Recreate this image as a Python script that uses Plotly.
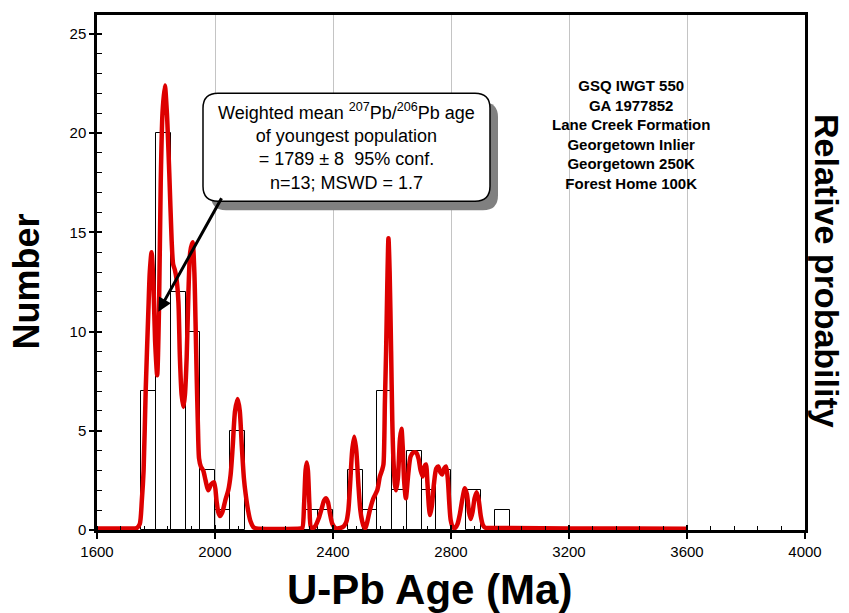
import plotly.graph_objects as go

# ---------------- data ----------------
bin_start = [1750, 1800, 1850, 1900, 1950, 2000, 2050, 2100, 2150, 2200, 2250, 2300, 2350,
             2400, 2450, 2500, 2550, 2600, 2650, 2700, 2750, 2800, 2850, 2900, 2950]
counts = [7, 20, 12, 10, 3, 1, 5, 0, 0, 0, 0, 1, 1,
          0, 3, 1, 7, 2, 4, 2, 3, 0, 2, 0, 1]
bin_width = 50

prob_age = [1600, 1700, 1735, 1745, 1752, 1758, 1765, 1774, 1779, 1785, 1791, 1797, 1804,
            1810, 1816, 1822, 1830, 1837, 1845, 1853, 1858, 1864, 1870, 1876, 1881, 1887,
            1893, 1898, 1904, 1910, 1916, 1924, 1930, 1934, 1938, 1942, 1946, 1952, 1960,
            1968, 1977, 1987, 1997, 2005, 2011, 2017, 2025, 2035, 2045, 2053, 2060, 2068,
            2077, 2084, 2091, 2098, 2104, 2112, 2120, 2130, 2140, 2290, 2296, 2302, 2307,
            2311, 2315, 2320, 2325, 2332, 2340, 2352, 2362, 2370, 2376, 2383, 2390, 2398,
            2408, 2425, 2437, 2445, 2452, 2458, 2465, 2472, 2479, 2486, 2492, 2498, 2505,
            2510, 2516, 2525, 2537, 2550, 2559, 2566, 2571, 2576, 2580, 2584, 2588, 2592,
            2597, 2601, 2605, 2610, 2614, 2620, 2627, 2632, 2637, 2641, 2647, 2655, 2663,
            2672, 2682, 2690, 2697, 2704, 2710, 2715, 2720, 2725, 2729, 2735, 2742, 2750,
            2757, 2764, 2770, 2777, 2783, 2789, 2794, 2799, 2806, 2814, 2822, 2830, 2839,
            2847, 2854, 2861, 2867, 2873, 2880, 2887, 2894, 2901, 2908, 2915, 2930, 3000,
            3200, 3400, 3600]
prob_val = [0.08, 0.08, 0.1, 0.3, 1.5, 3.0, 7.0, 11.0, 13.0, 14.0, 12.5, 9.5, 7.8,
            11.0, 17.5, 21.0, 22.4, 21.0, 18.0, 14.6, 13.4, 13.1, 12.6, 11.5, 8.7, 6.8,
            6.2, 6.8, 8.7, 12.0, 14.0, 14.5, 13.0, 10.5, 7.7, 5.3, 3.6, 3.2, 3.0,
            2.5, 2.0, 2.3, 2.4, 1.5, 0.9, 0.7, 0.9, 1.5, 2.0, 2.8, 4.2, 6.0,
            6.6, 6.0, 4.2, 2.6, 1.8, 1.0, 0.45, 0.15, 0.08, 0.08, 0.1, 1.3, 3.0,
            3.4, 3.0, 1.3, 0.15, 0.1, 0.2, 0.6, 1.1, 1.5, 1.6, 1.4, 0.8, 0.3,
            0.1, 0.1, 0.2, 0.4, 1.0, 2.3, 4.0, 4.7, 4.0, 2.3, 1.1, 0.5, 0.15,
            0.1, 0.4, 1.0, 1.6, 2.0, 2.7, 3.0, 3.3, 6.5, 9.0, 12.3, 14.7, 13.0,
            9.0, 5.5, 3.5, 2.3, 2.0, 2.6, 4.6, 5.1, 4.0, 2.5, 1.6, 2.8, 3.7,
            3.9, 3.9, 3.6, 3.0, 2.7, 3.2, 3.3, 2.4, 1.2, 0.75, 1.2, 2.3, 3.1,
            3.2, 2.9, 2.8, 3.1, 3.2, 2.6, 1.4, 0.5, 0.15, 0.1, 0.3, 0.8, 1.6,
            2.1, 1.8, 0.9, 0.55, 0.9, 1.6, 1.9, 1.5, 0.7, 0.25, 0.12, 0.1, 0.1,
            0.08, 0.07, 0.06]

x_ticks = [1600, 2000, 2400, 2800, 3200, 3600, 4000]
y_ticks = [0, 5, 10, 15, 20, 25]

box_text = ("Weighted mean <sup>207</sup>Pb/<sup>206</sup>Pb age<br>of youngest population"
            "<br>= 1789 ± 8  95% conf.<br>n=13; MSWD = 1.7")
sample_text = ("<b>GSQ IWGT 550<br>GA 1977852<br>Lane Creek Formation<br>Georgetown Inlier"
               "<br>Georgetown 250K<br>Forest Home 100K</b>")
arrow_target = (1808, 11.0)

FONT = "Liberation Sans, Arial, sans-serif"

# ---------------- figure ----------------
fig = go.Figure()

fig.add_trace(go.Scatter(
    x=prob_age, y=prob_val, mode="lines",
    line=dict(color="#dd0000", width=4.5, shape="spline", smoothing=0.7),
    showlegend=False, hoverinfo="skip"))

bx = [s + bin_width / 2 for s, c in zip(bin_start, counts) if c > 0]
by = [c for c in counts if c > 0]
fig.add_trace(go.Bar(
    x=bx, y=by, width=bin_width,
    marker=dict(color="rgba(0,0,0,0)", line=dict(color="black", width=1)),
    showlegend=False, hoverinfo="skip"))

# empty trace to bring up overlay axes (for crossing major ticks)
fig.add_trace(go.Scatter(x=[], y=[], xaxis="x2", yaxis="y2", showlegend=False))

fig.update_layout(
    width=849, height=613,
    margin=dict(l=97, r=44, t=12, b=83),
    paper_bgcolor="white", plot_bgcolor="white",
    font=dict(family=FONT, color="black", size=15),
    bargap=0,
    xaxis=dict(range=[1600, 4000], tickvals=x_ticks, ticks="outside", ticklen=6,
               tickwidth=1.5, tickcolor="black", showline=True, linecolor="black",
               linewidth=2.5, mirror=True, showgrid=True, gridcolor="#c4c4c4",
               gridwidth=1, zeroline=False, tickfont=dict(size=15),
               minor=dict(dtick=80, tick0=1600, ticks="inside", ticklen=4,
                          tickcolor="black", tickwidth=1, showgrid=False)),
    yaxis=dict(range=[0, 25.95], tickvals=y_ticks, ticks="outside", ticklen=5,
               tickwidth=1.5, tickcolor="black", showline=True, linecolor="black",
               linewidth=2.5, mirror=True, showgrid=False, zeroline=False,
               tickfont=dict(size=15),
               minor=dict(dtick=1, tick0=0, ticks="inside", ticklen=5,
                          tickcolor="black", tickwidth=1, showgrid=False)),
    xaxis2=dict(overlaying="x", anchor="y", range=[1600, 4000], tickvals=x_ticks,
                ticks="inside", ticklen=5, tickwidth=1.5, tickcolor="black",
                showticklabels=False, showline=False, showgrid=False, zeroline=False),
    yaxis2=dict(overlaying="y", anchor="x", side="left", range=[0, 25.95],
                tickvals=y_ticks, ticks="inside", ticklen=5, tickwidth=1.5,
                tickcolor="black", showticklabels=False, showline=False,
                showgrid=False, zeroline=False),
)

# rounded callout box with shadow
w, h, r = 143.5, 54.0, 15.0
path = (f"M {-w + r},{-h} L {w - r},{-h} Q {w},{-h} {w},{-h + r} L {w},{h - r} "
        f"Q {w},{h} {w - r},{h} L {-w + r},{h} Q {-w},{h} {-w},{h - r} "
        f"L {-w},{-h + r} Q {-w},{-h} {-w + r},{-h} Z")
cx, cy = 0.3524, 0.7432
fig.add_shape(type="path", path=path, xref="paper", yref="paper",
              xsizemode="pixel", ysizemode="pixel",
              xanchor=cx + 8 / 708, yanchor=cy - 9 / 518,
              fillcolor="#808080", line=dict(width=0))
fig.add_shape(type="path", path=path, xref="paper", yref="paper",
              xsizemode="pixel", ysizemode="pixel", xanchor=cx, yanchor=cy,
              fillcolor="white", line=dict(color="black", width=1.5))

fig.add_annotation(x=0.3517, y=0.745, xref="paper", yref="paper", text=box_text,
                   showarrow=False, font=dict(size=18, family=FONT),
                   xanchor="center", yanchor="middle", align="center")

fig.add_annotation(x=arrow_target[0], y=arrow_target[1], xref="x", yref="y", text="",
                   showarrow=True, ax=64, ay=-115, arrowhead=2, arrowsize=0.9,
                   arrowwidth=3, arrowcolor="black", standoff=0)

fig.add_annotation(x=0.7542, y=0.7675, xref="paper", yref="paper", text=sample_text,
                   showarrow=False, font=dict(size=15, family=FONT),
                   xanchor="center", yanchor="middle", align="center")

# axis titles
fig.add_annotation(x=-0.1003, y=0.4826, xref="paper", yref="paper",
                   text="<b>Number</b>", textangle=-90, showarrow=False,
                   font=dict(size=36, family=FONT), xanchor="center", yanchor="middle")
fig.add_annotation(x=0.4703, y=-0.1158, xref="paper", yref="paper",
                   text="<b>U-Pb Age (Ma)</b>", showarrow=False,
                   font=dict(size=42, family=FONT), xanchor="center", yanchor="middle")
fig.add_annotation(x=1.031, y=0.503, xref="paper", yref="paper",
                   text="<b>Relative probability</b>", textangle=90, showarrow=False,
                   font=dict(size=34, family=FONT), xanchor="center", yanchor="middle",
                   borderpad=0)

fig.write_html("out.html", config={"displayModeBar": False},
               post_script="document.body.style.margin='0px';")
